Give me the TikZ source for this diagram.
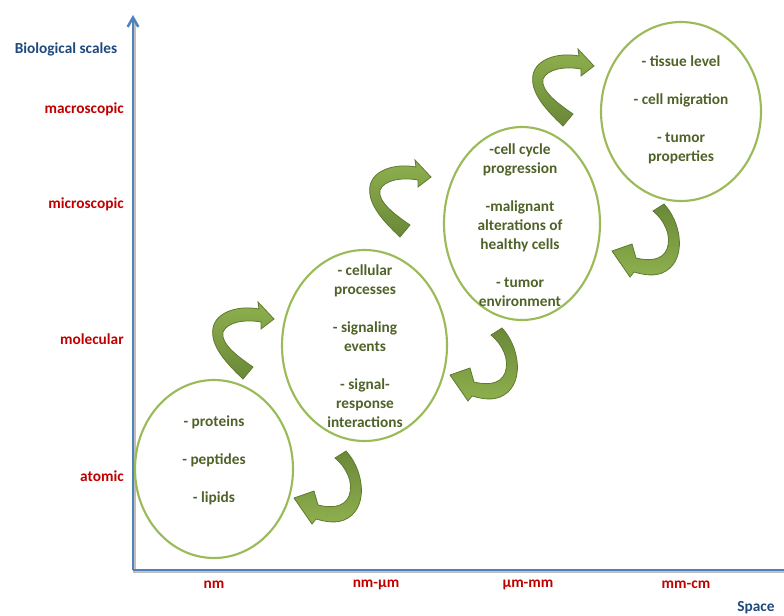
\documentclass[tikz,border=0pt]{standalone}
\usepackage{fontspec}
\setmainfont{Carlito}
\usetikzlibrary{shapes.geometric,arrows.meta}
\definecolor{axisblue}{HTML}{4F81BD}
\definecolor{titleblue}{HTML}{1F497D}
\definecolor{scalered}{HTML}{C00000}
\definecolor{ovalgreen}{HTML}{9BBB59}
\definecolor{textolive}{HTML}{4F6228}
\definecolor{arrowlight}{HTML}{8FB04E}
\definecolor{arrowdark}{HTML}{6A8838}
\definecolor{arrowedge}{HTML}{5E7A30}
\begin{document}
\begin{tikzpicture}[x=0.75pt,y=-0.75pt,
  oval/.style={draw=ovalgreen, line width=1.6pt, ellipse, inner sep=0pt},
  ovaltext/.style={text=textolive, font=\fontsize{11.5}{14.3}\selectfont\bfseries, align=center, inner sep=0pt},
  scalelab/.style={text=scalered, font=\fontsize{11.5}{14}\selectfont\bfseries, inner sep=0pt},
  axtitle/.style={text=titleblue, font=\fontsize{11.5}{14}\selectfont\bfseries, inner sep=0pt},
  axisline/.style={draw=axisblue, line width=1.9pt},
  axisshadow/.style={draw=black!25, line width=1.9pt},
  ribbon/.style={draw=arrowedge, line width=0.6pt},
  carrow/.pic={
    \shadedraw[ribbon, top color=arrowlight, bottom color=arrowdark]
      (243,379) .. controls (225,362) and (210,345) .. (213,328)
      .. controls (216,312) and (238,305) .. (259,309)
      -- (258,302) -- (274,319) -- (261,329) -- (261,322)
      .. controls (245,319) and (227,322) .. (223,332)
      .. controls (220,344) and (240,358) .. (253,367) -- cycle;
  },
  jarrow/.pic={
    \shadedraw[ribbon, top color=arrowdark, bottom color=arrowlight]
      (335,458) -- (346,451)
      .. controls (362,468) and (368,500) .. (352,515)
      .. controls (342,524) and (330,523) .. (316,519)
      -- (312,524) -- (294,498) -- (314,491) -- (318,505)
      .. controls (330,508) and (344,508) .. (349,496)
      .. controls (354,482) and (346,467) .. (335,458) -- cycle;
  }]
\useasboundingbox (0,0) rectangle (784,615);

% axes
\coordinate (origin) at (133,570);
\coordinate (ytop) at (133,15);
\coordinate (xend) at (790,570);
\coordinate (origins) at (134.5,572);
\coordinate (ytops) at (134.5,22);
\coordinate (xends) at (790,572);
\draw[axisshadow] (ytops) -- (origins) -- (xends);
\draw[axisline, -{Straight Barb[length=7pt,width=8pt]}] (origin) -- (ytop);
\draw[axisline] (origin) -- (xend);

% axis labels
\node[axtitle] (ytitle) at (66,49) {Biological scales};
\node[scalelab, anchor=east] (macro) at (124,109) {macroscopic};
\node[scalelab, anchor=east] (micro) at (124,204) {microscopic};
\node[scalelab, anchor=east] (molec) at (124,339) {molecular};
\node[scalelab, anchor=east] (atom) at (124,476) {atomic};
\node[scalelab] (xnm) at (214,585) {nm};
\node[scalelab] (xnmum) at (376,585) {nm-µm};
\node[scalelab] (xummm) at (528,585) {µm-mm};
\node[scalelab] (xmmcm) at (686,585) {mm-cm};
\node[axtitle] (xtitle) at (756,608) {Space};

% ovals
\node[oval, minimum width=118.5pt, minimum height=133.5pt] (o1) at (214,469) {};
\node[oval, minimum width=123.75pt, minimum height=143.25pt] (o2) at (364.5,345.5) {};
\node[oval, minimum width=117pt, minimum height=144.75pt] (o3) at (522,223.5) {};
\node[oval, minimum width=120pt, minimum height=134.25pt] (o4) at (681,111.5) {};

% oval texts
\node[ovaltext] (t1) at (214,460) {- proteins\\[14.3pt]- peptides\\[14.3pt]- lipids};
\node[ovaltext] (t2) at (365,346) {- cellular\\processes\\[14.3pt]- signaling\\events\\[14.3pt]- signal-\\response\\interactions};
\node[ovaltext] (t3) at (520,225) {-cell cycle\\progression\\[14.3pt]-malignant\\alterations of\\healthy cells\\[14.3pt]- tumor\\environment};
\node[ovaltext] (t4) at (681,110) {- tissue level\\[14.3pt]- cell migration\\[14.3pt]- tumor\\properties};

% curved arrows
\pic at (0,0) {carrow};
\pic at (157,-142) {carrow};
\pic at (320,-253) {carrow};
\pic at (0,0) {jarrow};
\pic at (156,-123) {jarrow};
\pic at (318,-247) {jarrow};
\end{tikzpicture}
\end{document}
